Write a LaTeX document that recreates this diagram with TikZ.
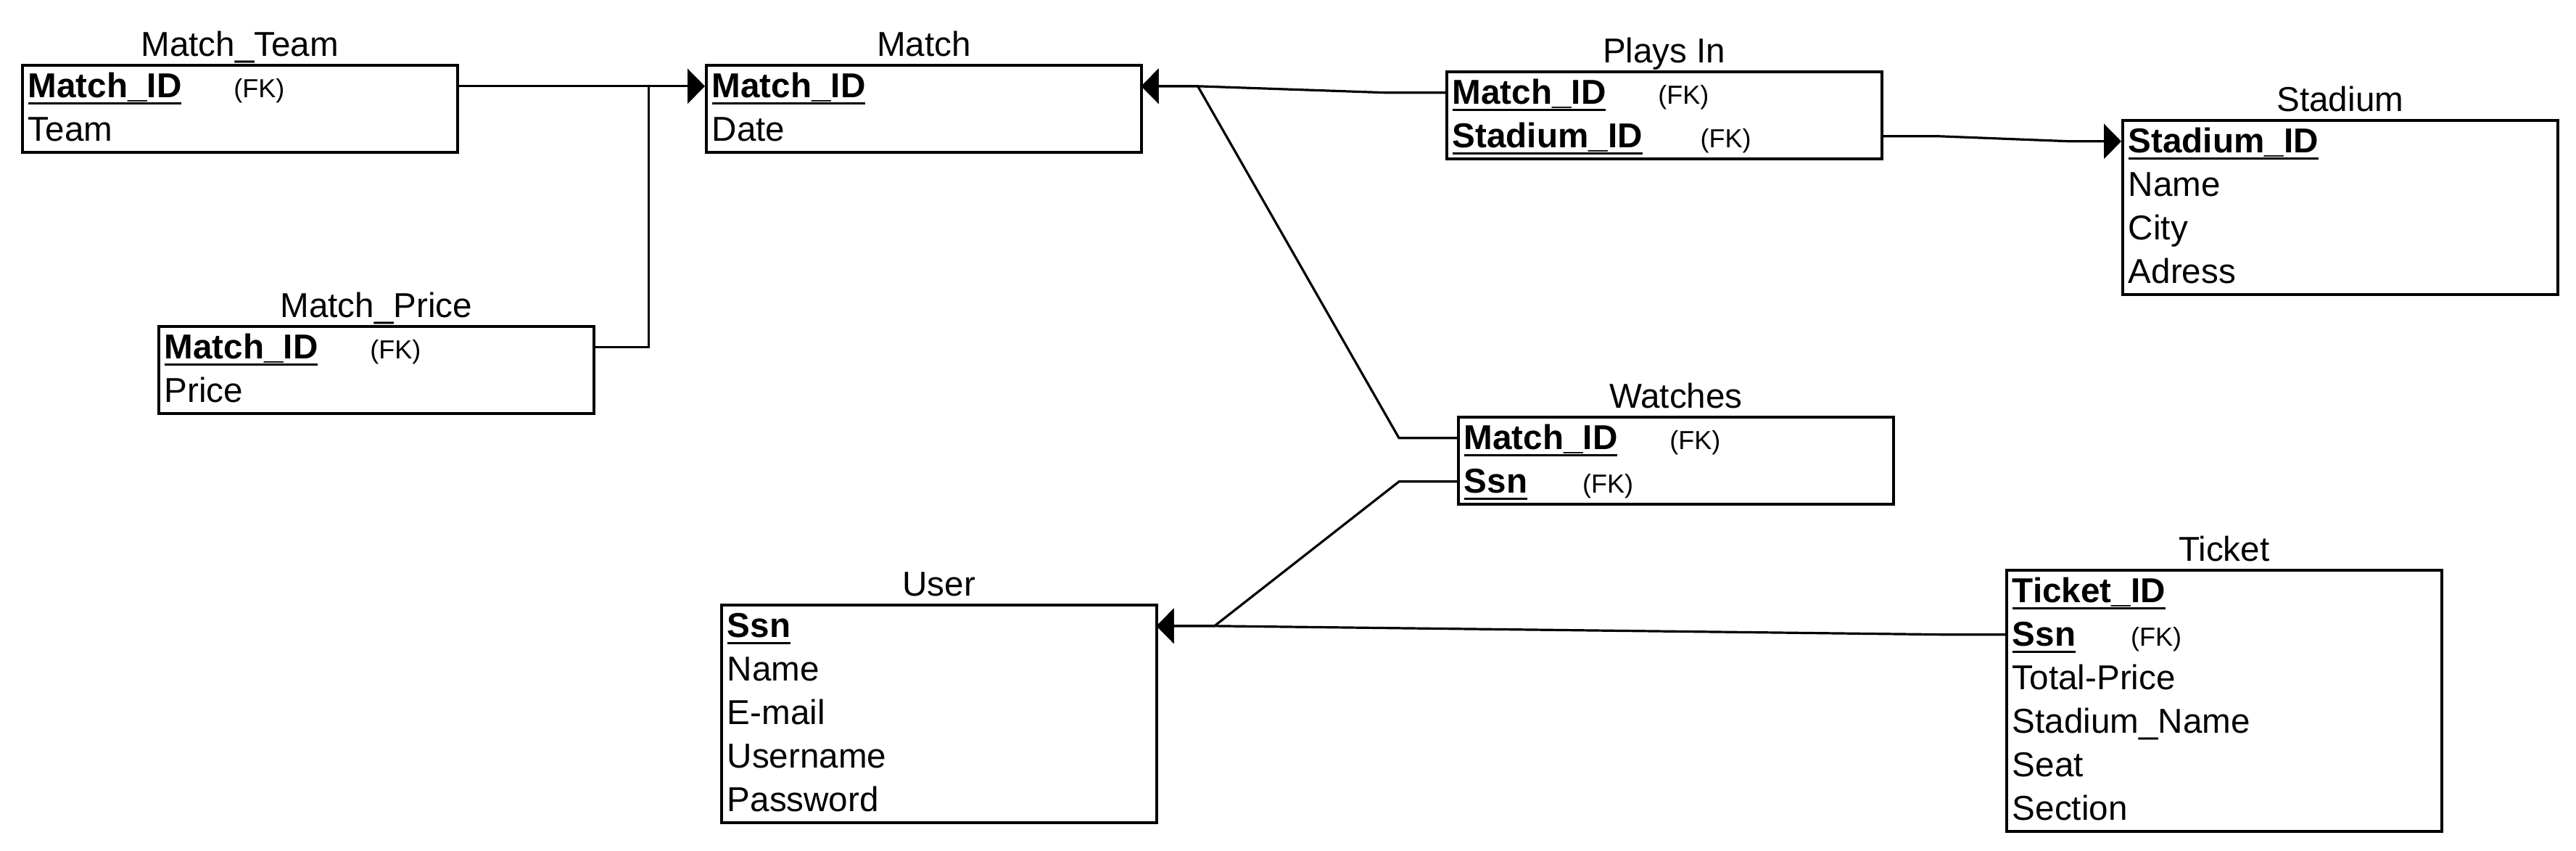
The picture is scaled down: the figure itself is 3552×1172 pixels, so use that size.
\documentclass[tikz,border=0pt]{standalone}
\usepackage{fontspec}
\setmainfont{Liberation Sans}
\usepackage{tikz}
\usetikzlibrary{arrows.meta,calc}
\newcommand{\pk}[1]{\setbox0\hbox{\textbf{#1}}\rlap{\rule[-2.3pt]{\wd0}{0.75pt}}\box0}

\begin{document}
\begin{tikzpicture}[
  x=0.25pt, y=-0.25pt,
  font=\fontsize{11.9}{14}\selectfont,
  tabela/.style={draw, line width=0.9pt, minimum width=150pt, inner sep=0pt, anchor=north west},
  wiersz/.style={anchor=north west, inner xsep=2.25pt, inner ysep=0pt, text width=145.5pt, align=left, text height=11.5pt, text depth=3.5pt},
  tytul/.style={anchor=base},
  rel/.style={line width=0.8pt, -{Triangle[length=6pt, width=12pt]}},
  lacz/.style={line width=0.8pt},
]
\path[fill=white] (0,0) rectangle (3552,1172);
% Match_Team
\node[tabela, minimum height=30pt] (mteam) at (29,88) {};
\node[tytul] (mteamt) at ($(mteam.north)+(0,-11)$) {Match\_Team};
\node[wiersz] (mt1) at (mteam.north west) {\pk{Match\_ID}\hspace{18pt}{\fontsize{9}{10}\selectfont (FK)}};
\node[wiersz] (mt2) at ($(mteam.north west)+(0,60)$) {Team};
% Match_Price
\node[tabela, minimum height=30pt] (mprice) at (217,448) {};
\node[tytul] (mpricet) at ($(mprice.north)+(0,-11)$) {Match\_Price};
\node[wiersz] (mp1) at (mprice.north west) {\pk{Match\_ID}\hspace{18pt}{\fontsize{9}{10}\selectfont (FK)}};
\node[wiersz] (mp2) at ($(mprice.north west)+(0,60)$) {Price};
% Match
\node[tabela, minimum height=30pt] (match) at (972,88) {};
\node[tytul] (matcht) at ($(match.north)+(0,-11)$) {Match};
\node[wiersz] (m1) at (match.north west) {\pk{Match\_ID}};
\node[wiersz] (m2) at ($(match.north west)+(0,60)$) {Date};
% Plays In
\node[tabela, minimum height=30pt] (plays) at (1993,97) {};
\node[tytul] (playst) at ($(plays.north)+(0,-11)$) {Plays In};
\node[wiersz] (p1) at (plays.north west) {\pk{Match\_ID}\hspace{18pt}{\fontsize{9}{10}\selectfont (FK)}};
\node[wiersz] (p2) at ($(plays.north west)+(0,60)$) {\pk{Stadium\_ID}\hspace{20pt}{\fontsize{9}{10}\selectfont (FK)}};
% Stadium
\node[tabela, minimum height=60pt] (stadium) at (2925,164) {};
\node[tytul] (stadiumt) at ($(stadium.north)+(0,-11)$) {Stadium};
\node[wiersz] (s1) at (stadium.north west) {\pk{Stadium\_ID}};
\node[wiersz] (s2) at ($(stadium.north west)+(0,60)$) {Name};
\node[wiersz] (s3) at ($(stadium.north west)+(0,120)$) {City};
\node[wiersz] (s4) at ($(stadium.north west)+(0,180)$) {Adress};
% Watches
\node[tabela, minimum height=30pt] (watches) at (2009,573) {};
\node[tytul] (watchest) at ($(watches.north)+(0,-11)$) {Watches};
\node[wiersz] (w1) at (watches.north west) {\pk{Match\_ID}\hspace{18pt}{\fontsize{9}{10}\selectfont (FK)}};
\node[wiersz] (w2) at ($(watches.north west)+(0,60)$) {\pk{Ssn}\hspace{19pt}{\fontsize{9}{10}\selectfont (FK)}};
% User
\node[tabela, minimum height=75pt] (user) at (993,832) {};
\node[tytul] (usert) at ($(user.north)+(0,-11)$) {User};
\node[wiersz] (u1) at (user.north west) {\pk{Ssn}};
\node[wiersz] (u2) at ($(user.north west)+(0,60)$) {Name};
\node[wiersz] (u3) at ($(user.north west)+(0,120)$) {E-mail};
\node[wiersz] (u4) at ($(user.north west)+(0,180)$) {Username};
\node[wiersz] (u5) at ($(user.north west)+(0,240)$) {Password};
% Ticket
\node[tabela, minimum height=90pt] (ticket) at (2765,784) {};
\node[tytul] (tickett) at ($(ticket.north)+(0,-11)$) {Ticket};
\node[wiersz] (t1) at (ticket.north west) {\pk{Ticket\_ID}};
\node[wiersz] (t2) at ($(ticket.north west)+(0,60)$) {\pk{Ssn}\hspace{19pt}{\fontsize{9}{10}\selectfont (FK)}};
\node[wiersz] (t3) at ($(ticket.north west)+(0,120)$) {Total-Price};
\node[wiersz] (t4) at ($(ticket.north west)+(0,180)$) {Stadium\_Name};
\node[wiersz] (t5) at ($(ticket.north west)+(0,240)$) {Seat};
\node[wiersz] (t6) at ($(ticket.north west)+(0,300)$) {Section};
% polaczenia
\coordinate (tak1) at ($(mt1.east)+(264,0)$);
\draw[rel] (mt1.east) -- (m1.west);
\draw[lacz] (mp1.east) -| (tak1);
\coordinate (m1uit) at ($(m1.east)+(78,0)$);
\draw[rel] (p1.west) -- ++(-80,0) -- (m1uit) -- (m1.east);
\draw[rel] (w1.west) -- ++(-80,0) -- (m1uit) -- (m1.east);
\draw[rel] (p2.east) -- ++(80,0) -- ($(s1.west)+(-70,0)$) -- (s1.west);
\coordinate (u1uit) at ($(u1.east)+(80,0)$);
\draw[rel] (w2.west) -- ++(-80,0) -- (u1uit) -- (u1.east);
\draw[rel] (t2.west) -- ++(-75,0) -- (u1uit) -- (u1.east);
\end{tikzpicture}
\end{document}
